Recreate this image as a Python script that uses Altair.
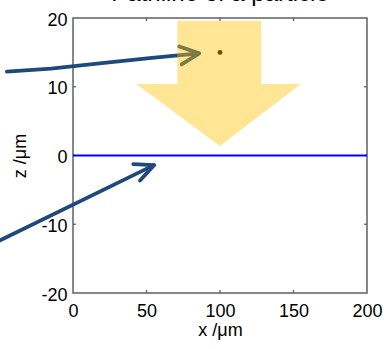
import altair as alt
import pandas as pd

TITLE = "Pathline of a particle"
X_TICKS = [0, 50, 100, 150, 200]
Z_TICKS = [-20, -10, 0, 10, 20]
INNER_X_TICKS = [50, 100, 150]
INNER_Z_TICKS = [-10, 0, 10]

# particle position (µm)
particle_x = [100]
particle_z = [15]

# interface at z = 0
surface_x = [0, 200]
surface_z = [0, 0]

# big downward flow arrow (closed outline)
flow_x = [71, 128, 128, 155, 100, 43, 71, 71]
flow_z = [19.6, 19.6, 10.4, 10.4, 1.4, 10.4, 10.4, 19.6]

# pointer arrow towards the particle
arrow1_shaft_x = [-45, -15, 18, 52, 85.5]
arrow1_shaft_z = [12.2, 12.65, 13.4, 14.15, 14.85]
arrow1_head_x = [72.3, 85.9, 73.9]
arrow1_head_z = [15.85, 14.85, 13.25]

# pointer arrow towards the interface
arrow2_shaft_x = [-55, 55.1]
arrow2_shaft_z = [-12.9, -1.4]
arrow2_head_x = [41.0, 55.1, 45.6]
arrow2_head_z = [-1.25, -1.4, -3.65]

FONT = "Liberation Sans"
FRAME = "#606060"
NAVY = "#1F497D"
AMBER = "#FFC000"


def path(xs, zs, name):
    return pd.DataFrame({"x": xs, "z": zs, "seg": name, "k": range(len(xs))})


arrows = pd.concat([
    path(arrow1_shaft_x, arrow1_shaft_z, "a1s"),
    path(arrow1_head_x, arrow1_head_z, "a1h"),
    path(arrow2_shaft_x, arrow2_shaft_z, "a2s"),
    path(arrow2_head_x, arrow2_head_z, "a2h"),
])
flow = path(flow_x, flow_z, "flow")
surface = pd.DataFrame({"x": surface_x, "z": surface_z})
particle = pd.DataFrame({"x": particle_x, "z": particle_z})

# inward tick marks on all four sides of the box
dx, dz = 2.0, 0.45
tick_rows = []
for v in INNER_X_TICKS:
    tick_rows.append({"x": v, "x2": v, "z": -20, "z2": -20 + dz})
    tick_rows.append({"x": v, "x2": v, "z": 20, "z2": 20 - dz})
for v in INNER_Z_TICKS:
    tick_rows.append({"x": 0, "x2": dx, "z": v, "z2": v})
    tick_rows.append({"x": 200, "x2": 200 - dx, "z": v, "z2": v})
ticks = pd.DataFrame(tick_rows)

xscale = alt.Scale(domain=[0, 200], nice=False, zero=False)
zscale = alt.Scale(domain=[-20, 20], nice=False, zero=False)

x_axis = alt.Axis(
    values=X_TICKS, ticks=False, tickSize=0, domain=False, grid=False,
    labelFont=FONT, labelFontSize=18, labelColor="#000000", labelPadding=9,
    labelFlush=False, labelOverlap=False, labelExpr="'' + datum.value",
    title="x /μm", titleFont=FONT, titleFontSize=18, titleFontWeight="normal",
    titleColor="#000000", titleX=147, titleY=42, titleBaseline="alphabetic",
)
z_axis = alt.Axis(
    values=Z_TICKS, ticks=False, tickSize=0, domain=False, grid=False,
    labelFont=FONT, labelFontSize=18, labelColor="#000000", labelPadding=6,
    labelFlush=False, labelOverlap=False, labelOffset=2,
    labelExpr="'' + datum.value",
    title="z /μm", titleFont=FONT, titleFontSize=18, titleFontWeight="normal",
    titleColor="#000000", titleX=-48, titleY=137.5, titleAngle=-90,
    titleAlign="center", titleBaseline="alphabetic",
)

X = alt.X("x:Q", scale=xscale, axis=x_axis)
Z = alt.Y("z:Q", scale=zscale, axis=z_axis)

tick_layer = alt.Chart(ticks).mark_rule(color=FRAME, strokeWidth=1.3).encode(
    x=alt.X("x:Q", scale=xscale, axis=x_axis), x2="x2:Q",
    y=alt.Y("z:Q", scale=zscale, axis=z_axis), y2="z2:Q",
)

surface_layer = alt.Chart(surface).mark_line(color="#0000FF", strokeWidth=1.8).encode(
    x=X, y=Z
)

arrow_layer = alt.Chart(arrows).mark_line(
    color=NAVY, strokeWidth=3.8, strokeCap="round", strokeJoin="round", clip=False
).encode(x=X, y=Z, detail="seg:N", order="k:Q")

particle_layer = alt.Chart(particle).mark_point(
    filled=True, color="#000000", size=24, opacity=1
).encode(x=X, y=Z)

flow_layer = alt.Chart(flow).mark_line(
    fill=AMBER, fillOpacity=0.42, strokeWidth=0, strokeOpacity=0
).encode(x=X, y=Z, order="k:Q")

chart = alt.layer(
    tick_layer, surface_layer, arrow_layer, particle_layer, flow_layer
).properties(
    width=294,
    height=275,
    background="white",
    title=alt.TitleParams(
        TITLE, font=FONT, fontSize=24, fontWeight="normal", color="#000000",
        anchor="middle", offset=0, baseline="alphabetic", dy=14,
    ),
    autosize=alt.AutoSizeParams(type="none"),
    padding={"left": 73, "top": 18, "right": 17, "bottom": 56},
).configure_view(
    stroke=FRAME, strokeWidth=1.5
)

chart.save("out.html", embed_options={"renderer": "svg", "actions": False})
